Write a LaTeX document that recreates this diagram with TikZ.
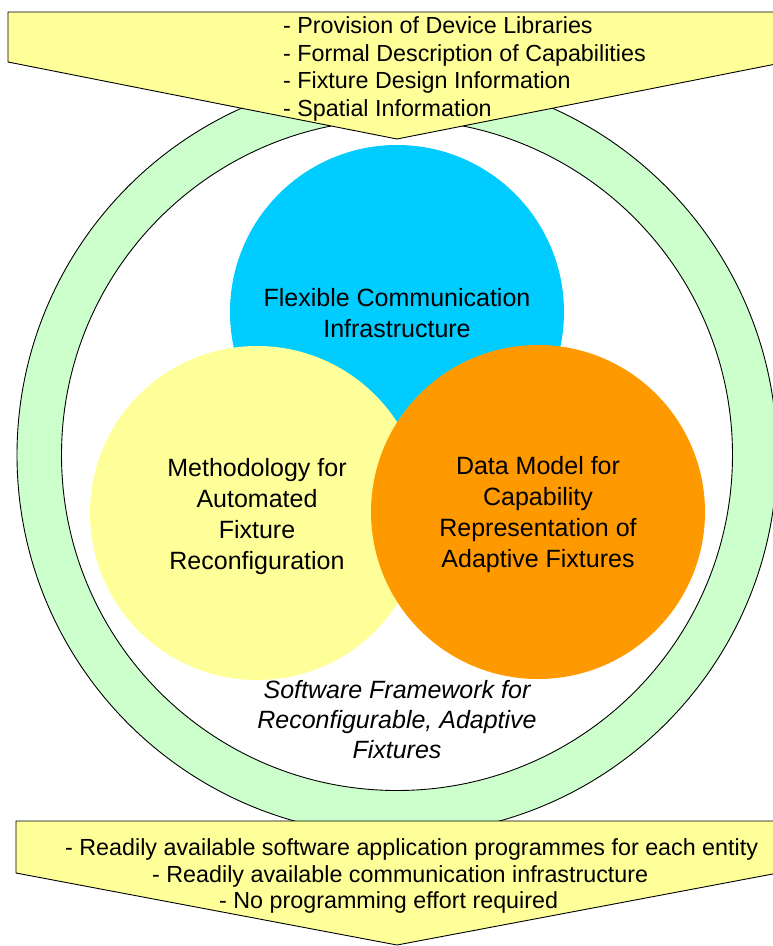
\documentclass[tikz,border=0pt]{standalone}
\usepackage{fontspec}
\setmainfont{Liberation Sans}
\definecolor{cblue}{HTML}{00CCFF}
\definecolor{cyellow}{HTML}{FFFF99}
\definecolor{corange}{HTML}{FF9900}
\definecolor{cgreen}{HTML}{CCFFCC}
\tikzset{
  ringline/.style={circle, draw=black, line width=0.9pt, inner sep=0pt},
  bubble/.style={circle, inner sep=0pt, minimum size=334pt},
  bubbletext/.style={align=center, inner sep=0pt, font=\fontsize{25}{31}\selectfont},
  arrowbox/.style={draw=black, line width=0.9pt, fill=cyellow, line join=miter},
  arrowtext/.style={anchor=base west, inner sep=0pt, font=\fontsize{23.3}{27.7}\selectfont},
  caption/.style={align=center, inner sep=0pt, font=\fontsize{25}{30}\selectfont\itshape}
}
\begin{document}
\begin{tikzpicture}[x=1pt,y=-1pt]
\useasboundingbox (0,0) rectangle (773,946);
\clip (0,0) rectangle (773,946);
% ring
\node[ringline, fill=cgreen, minimum size=760pt] (outer) at (397,455) {};
\node[ringline, fill=white, minimum size=671pt] (inner) at (397,455) {};
% bubbles
\node[bubble, fill=cblue] (comm) at (397,312) {};
\node[bubble, fill=cyellow] (method) at (257,513) {};
\node[bubble, fill=corange] (data) at (538,512) {};
\node[bubbletext] (commtext) at (397,313) {Flexible Communication\\Infrastructure};
\node[bubbletext] (methodtext) at (257,517) {Methodology for\\Automated\\Fixture\\Reconfiguration};
\node[bubbletext] (datatext) at (538,514.5) {Data Model for\\Capability\\Representation of\\Adaptive Fixtures};
\node[caption] (frame) at (397,720) {Software Framework for\\Reconfigurable, Adaptive\\Fixtures};
% top arrow
\draw[arrowbox] (8,12) -- (786,12) -- (786,62) -- (397,139) -- (8,62) -- cycle;
\node[arrowtext] (in1) at (283,33) {- Provision of Device Libraries};
\node[arrowtext] (in2) at (283,61) {- Formal Description of Capabilities};
\node[arrowtext] (in3) at (283,88.5) {- Fixture Design Information};
\node[arrowtext] (in4) at (283,116) {- Spatial Information};
% bottom arrow
\draw[arrowbox] (16,821) -- (778,821) -- (778,873) -- (397,945) -- (16,873) -- cycle;
\node[arrowtext] (out1) at (65,855) {- Readily available software application programmes for each entity};
\node[arrowtext] (out2) at (152,882) {- Readily available communication infrastructure};
\node[arrowtext] (out3) at (219,908.5) {- No programming effort required};
\end{tikzpicture}
\end{document}
